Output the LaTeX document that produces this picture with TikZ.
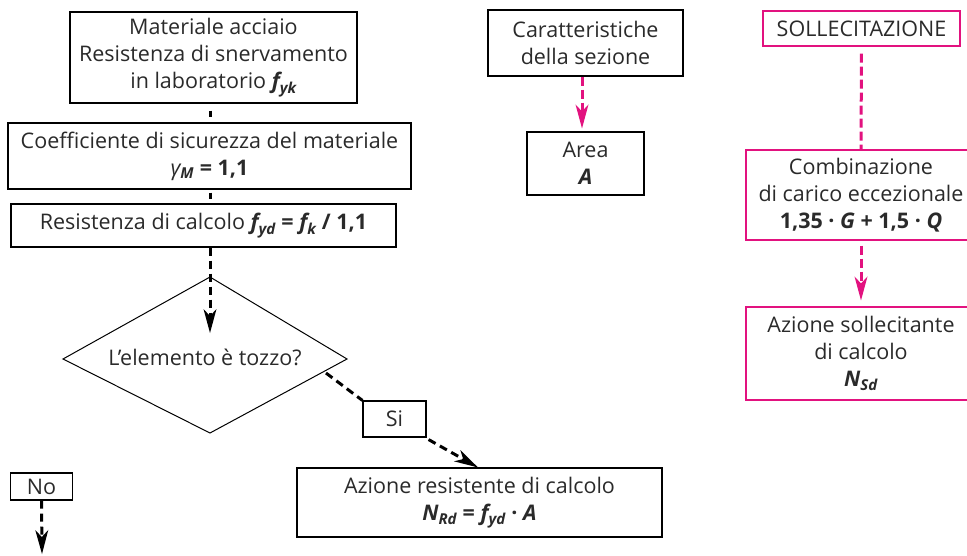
\documentclass[tikz,border=0pt]{standalone}
\usepackage{fontspec}
\setmainfont{Open Sans}
\usetikzlibrary{calc}
\definecolor{pinkc}{HTML}{E2127F}
\definecolor{txt}{HTML}{2A2A2A}
\newcommand{\bi}[1]{{\bfseries\itshape #1}}
\newcommand{\sbi}[1]{\textsubscript{\bfseries\itshape #1}}
% #1 start coordinate, #2 tip coordinate, #3 line style, #4 fill colour
\newcommand{\arrowto}[4]{%
  \draw[#3] (#1) -- ($(#2)!16pt!(#1)$);
  \coordinate (ab) at ($(#2)!24pt!(#1)$);
  \fill[#4] (#2) -- ($(ab)!6.5pt!90:(#2)$) -- ($(#2)!17pt!(#1)$) -- ($(ab)!6.5pt!-90:(#2)$) -- cycle;
}
\begin{document}
\begin{tikzpicture}[x=1pt,y=-1pt,
  box/.style={draw=black, line width=1.1pt, rectangle, inner sep=0pt, text=txt,
    font=\fontsize{21.5}{27}\selectfont, align=center},
  pbox/.style={box, draw=pinkc},
  dk/.style={draw=black, line width=3pt, dash pattern=on 8pt off 5pt},
  dp/.style={draw=pinkc, line width=3pt, dash pattern=on 9pt off 4pt},
  solidseg/.style={draw=black, line width=3pt}
]
\useasboundingbox (0,0) rectangle (967,555);
\clip (0,0) rectangle (967,555);
% left column
\node[box, minimum width=287pt, minimum height=91pt] (b1) at (213.5,57.5)
  {Materiale acciaio\\Resistenza di snervamento\\in laboratorio \bi{f}\sbi{yk}};
\node[box, minimum width=403pt, minimum height=66pt] (b2) at (209.5,156)
  {Coefficiente di sicurezza del materiale\\{\itshape γ}\sbi{M} \textbf{= 1,1}};
\node[box, minimum width=385pt, minimum height=43pt] (b3) at (203.5,225.5)
  {Resistenza di calcolo \bi{f}\sbi{yd} \textbf{= \bi{f}\sbi{k} / 1,1}};
% diamond
\coordinate (dT) at (210,277);
\coordinate (dR) at (347,359);
\coordinate (dB) at (210,433);
\coordinate (dL) at (63,359);
\draw[line width=1pt] (dT) -- (dR) -- (dB) -- (dL) -- cycle;
\node[text=txt, font=\fontsize{21.5}{27}\selectfont, inner sep=0pt] (q) at (205,357) {L’elemento è tozzo?};
\coordinate (dS) at (326,373);
\coordinate (tip1) at (210,333);
% Si / No
\node[box, minimum width=63pt, minimum height=36pt] (si) at (394.5,419) {Si};
\node[box, minimum width=62pt, minimum height=27pt] (no) at (41.5,486.5) {No};
\node[box, minimum width=365pt, minimum height=69pt] (nrd) at (479.5,502.5)
  {Azione resistente di calcolo\\\bi{N}\sbi{Rd} \textbf{=} \bi{f}\sbi{yd} \textbf{·} \bi{A}};
\coordinate (noend) at (42,554);
% middle column
\node[box, minimum width=195pt, minimum height=66pt] (car) at (585.5,43)
  {Caratteristiche\\della sezione};
\node[box, minimum width=117pt, minimum height=63pt] (area) at (585.5,163.5)
  {Area\\\bi{A}};
% right column (pink)
\node[pbox, minimum width=197pt, minimum height=35pt] (sol) at (861.5,28.5)
  {SOLLECITAZIONE};
\node[pbox, minimum width=230pt, minimum height=90pt] (comb) at (861,195)
  {Combinazione\\di carico eccezionale\\\textbf{1,35 · \bi{G} + 1,5 · \bi{Q}}};
\node[pbox, minimum width=230pt, minimum height=93pt] (az) at (861,353.5)
  {Azione sollecitante\\di calcolo\\\bi{N}\sbi{Sd}};
% connector end points
\coordinate (s3) at (dT |- b3.south);
\coordinate (sSi) at ($(si.south east)+(2,2)$);
\coordinate (tNrd) at ($(nrd.north)+(-1.5,0)$);
\coordinate (sNo) at (no.south);
\coordinate (sCar) at (car.south -| 582,0);
\coordinate (tArea) at ($(area.north -| 582,0)+(0,-3)$);
\coordinate (sComb) at ($(comb.south)+(0,5)$);
\coordinate (tAz) at ($(az.north)+(0,-6)$);
% connectors
\draw[solidseg, shorten <=7pt, shorten >=5pt] (dT |- b1.south) -- (dT |- b2.north);
\draw[solidseg, shorten <=3pt, shorten >=4pt] (dT |- b2.south) -- (dT |- b3.north);
\arrowto{s3}{tip1}{dk}{black}
\draw[dk] (dS) -- (si.north west);
\arrowto{sSi}{tNrd}{dk}{black}
\arrowto{sNo}{noend}{dk}{black}
\arrowto{sCar}{tArea}{dp}{pinkc}
\draw[dp, shorten <=7pt] (sol.south) -- (comb.north);
\arrowto{sComb}{tAz}{dp}{pinkc}
\end{tikzpicture}
\end{document}
